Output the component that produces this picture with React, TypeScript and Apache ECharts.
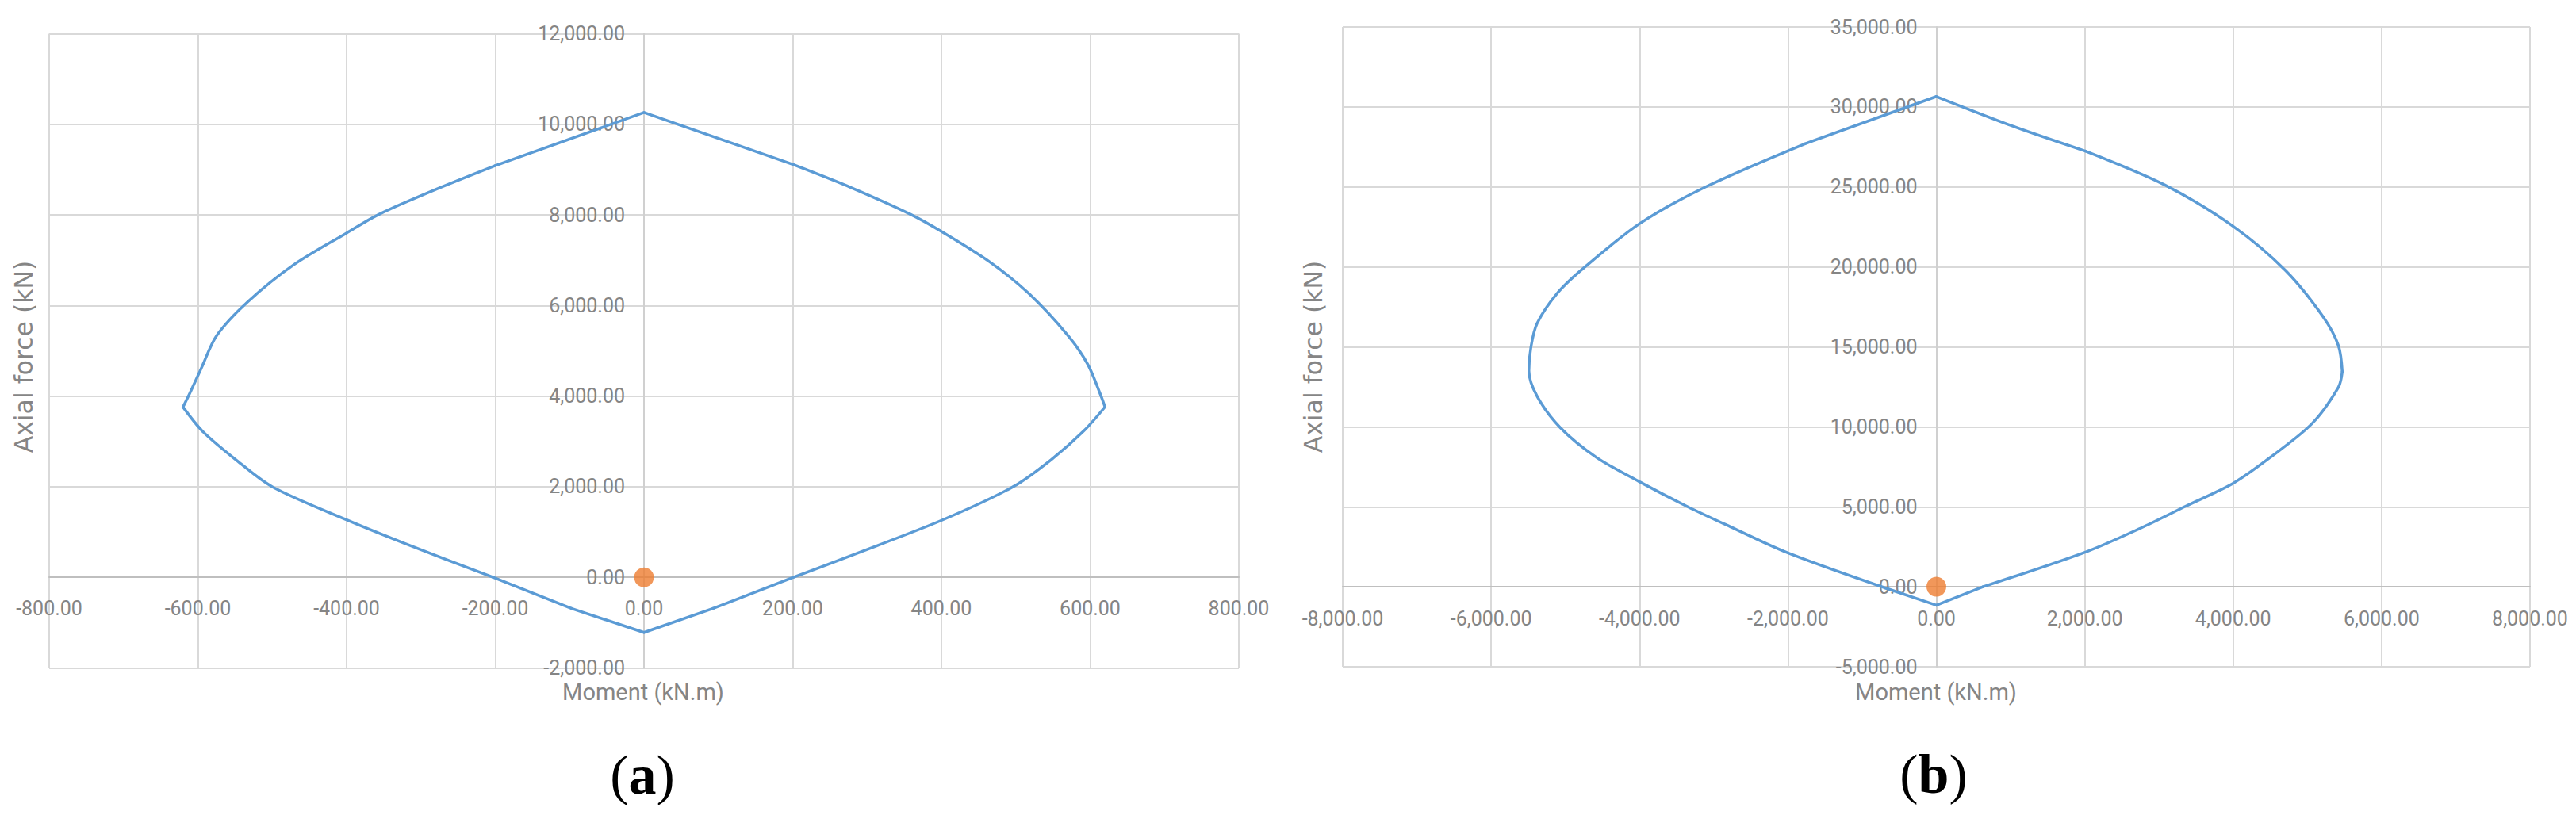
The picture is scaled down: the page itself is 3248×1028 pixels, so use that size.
import React, { useEffect, useRef } from "react";
import * as echarts from "echarts";

// ---------- data ----------
// Panel (a): interaction diagram, moment (kN.m) vs axial force (kN), traced clockwise from the top
const momentA = [0, 201, 279, 358, 401, 465, 518, 571, 597, 613, 620, 592, 548, 497, 401, 279, 201, 93, 0, -97, -203, -322, -400, -500, -550, -594, -620, -611, -595, -575, -533, -471, -400, -358, -285, -200, 0];
const axialA = [10260, 9110, 8600, 8016, 7624, 6962, 6259, 5322, 4697, 4073, 3762, 3240, 2600, 2005, 1264, 484, 0, -687, -1217, -690, 0, 750, 1270, 2000, 2610, 3230, 3760, 4060, 4630, 5330, 6080, 6900, 7600, 8000, 8530, 9090, 10260];
// indices where the outline has a corner
const cornersA = [0, 1, 10, 16, 17, 18, 19, 20, 26, 35, 36];
const loadA = [[0, 0]];

// Panel (b)
const momentB = [0, 1047, 2009, 3075, 4002, 4706, 5215, 5419, 5470, 5419, 5064, 4503, 4002, 3360, 2751, 2025, 627, 0, -683, -2001, -2772, -3355, -4006, -4578, -5070, -5380, -5491, -5463, -5380, -5100, -4735, -4000, -3110, -1770, 0];
const axialB = [30650, 28770, 27240, 25130, 22530, 19770, 16860, 15070, 13450, 12480, 10210, 8100, 6480, 5035, 3662, 2197, 0, -1150, -80, 2120, 3745, 5015, 6580, 8080, 9960, 11910, 13500, 15000, 16470, 18400, 20000, 22700, 25000, 27700, 30650];
const cornersB = [0, 2, 8, 16, 17, 18, 33, 34];
const loadB = [[0, 0]];

// axis ranges: [min, max, interval]
const xRangeA = [-800, 800, 200];
const yRangeA = [-2000, 12000, 2000];
const xRangeB = [-8000, 8000, 2000];
const yRangeB = [-5000, 35000, 5000];

const xTitle = "Moment (kN.m)";
const yTitle = "Axial force (kN)";
const panelLabels = ["a", "b"];

// ---------- layout & styles ----------
const GRID_A = { left: 62, top: 42.5, width: 1500, height: 800 };
const GRID_B = { left: 1693, top: 34, width: 1497, height: 807 };

const LINE_BLUE = "#5B9BD5";
const DOT_ORANGE = "#ED7D31";
const GRID_GRAY = "#d9d9d9";
const AXIS_GRAY = "#bfbfbf";
const TEXT_GRAY = "#858585";
const LABEL_FONT = "Roboto, 'Liberation Sans', sans-serif";

const fmt = (v: number) =>
  v.toLocaleString("en-US", { minimumFractionDigits: 2, maximumFractionDigits: 2 });

const pairs = (xs: number[], ys: number[]) => xs.map((x, i) => [x, ys[i]]);

// distance (px) from grid edge to the zero position of a range
const zeroFrom = (size: number, r: number[]) => (size * (0 - r[0])) / (r[1] - r[0]);

function makeX(gridIndex: number, r: number[], yr: number[], h: number, margin: number) {
  return {
    gridIndex,
    type: "value",
    position: "bottom",
    offset: -zeroFrom(h, yr),
    min: r[0],
    max: r[1],
    interval: r[2],
    axisLine: { show: true, onZero: false, lineStyle: { color: AXIS_GRAY, width: 2 } },
    axisTick: { show: false },
    axisLabel: {
      formatter: fmt,
      color: TEXT_GRAY,
      fontFamily: LABEL_FONT,
      fontSize: 25,
      margin,
    },
    splitLine: { show: true, lineStyle: { color: GRID_GRAY, width: 2 } },
  };
}

function makeY(gridIndex: number, r: number[], xr: number[], w: number) {
  return {
    gridIndex,
    type: "value",
    position: "left",
    offset: -zeroFrom(w, xr),
    min: r[0],
    max: r[1],
    interval: r[2],
    axisLine: { show: true, onZero: false, lineStyle: { color: "#d0d0d0", width: 2 } },
    axisTick: { show: false },
    axisLabel: {
      formatter: fmt,
      color: TEXT_GRAY,
      fontFamily: LABEL_FONT,
      fontSize: 25,
      margin: 24,
    },
    splitLine: { show: true, lineStyle: { color: GRID_GRAY, width: 2 } },
  };
}

// split the outline at its corners; curved pieces are smoothed, two-point pieces stay straight
function outlineSeries(idx: number, xs: number[], ys: number[], corners: number[]) {
  const pts = pairs(xs, ys);
  const out: any[] = [];
  for (let k = 0; k < corners.length - 1; k++) {
    const seg = pts.slice(corners[k], corners[k + 1] + 1);
    out.push({
      type: "line",
      xAxisIndex: idx,
      yAxisIndex: idx,
      data: seg,
      showSymbol: false,
      symbol: "none",
      smooth: seg.length > 2 ? 0.3 : false,
      lineStyle: { color: LINE_BLUE, width: 3.5, cap: "round", join: "round" },
      z: 3,
      silent: true,
    });
  }
  return out;
}

function dotSeries(idx: number, pts: number[][]) {
  return {
    type: "scatter",
    xAxisIndex: idx,
    yAxisIndex: idx,
    data: pts,
    symbol: "circle",
    symbolSize: 25,
    itemStyle: { color: DOT_ORANGE },
    z: 4,
  };
}

function yTitleText(x: number, y: number) {
  return {
    type: "text",
    x,
    y,
    rotation: Math.PI / 2,
    style: {
      text: yTitle,
      fill: TEXT_GRAY,
      fontFamily: "'DejaVu Sans', sans-serif",
      fontSize: 31.5,
      align: "center",
      verticalAlign: "middle",
    },
  };
}

function xTitleText(x: number, y: number) {
  return {
    type: "text",
    x,
    y,
    style: {
      text: xTitle,
      fill: TEXT_GRAY,
      fontFamily: LABEL_FONT,
      fontSize: 29,
      align: "center",
      verticalAlign: "middle",
    },
  };
}

function panelText(x: number, y: number, letter: string) {
  return {
    type: "text",
    x,
    y,
    style: {
      text: "({b|" + letter + "})",
      fill: "#000",
      fontFamily: "'Liberation Serif', 'Times New Roman', serif",
      fontSize: 70,
      align: "center",
      verticalAlign: "middle",
      rich: {
        b: {
          fontFamily: "'Liberation Serif', 'Times New Roman', serif",
          fontSize: 70,
          fontWeight: "bold",
          fill: "#000",
        },
      },
    },
  };
}

const option = {
  animation: false,
  backgroundColor: "#ffffff",
  grid: [
    { ...GRID_A, containLabel: false },
    { ...GRID_B, containLabel: false },
  ],
  xAxis: [
    makeX(0, xRangeA, yRangeA, GRID_A.height, 27),
    makeX(1, xRangeB, yRangeB, GRID_B.height, 28),
  ],
  yAxis: [makeY(0, yRangeA, xRangeA, GRID_A.width), makeY(1, yRangeB, xRangeB, GRID_B.width)],
  series: [
    ...outlineSeries(0, momentA, axialA, cornersA),
    dotSeries(0, loadA),
    ...outlineSeries(1, momentB, axialB, cornersB),
    dotSeries(1, loadB),
  ],
  graphic: [
    yTitleText(30, 450),
    yTitleText(1656, 450),
    xTitleText(811, 873),
    xTitleText(2441, 873),
    panelText(810, 977, panelLabels[0]),
    panelText(2438, 976, panelLabels[1]),
  ],
};

export default function App() {
  const ref = useRef<HTMLDivElement>(null);
  useEffect(() => {
    if (!ref.current) return;
    const chart = echarts.init(ref.current, null, { renderer: "svg" });
    chart.setOption(option as any);
    return () => chart.dispose();
  }, []);
  return (
    <div
      ref={ref}
      style={{ position: "absolute", left: 0, top: 0, width: 3248, height: 1028, background: "#fff" }}
    />
  );
}
